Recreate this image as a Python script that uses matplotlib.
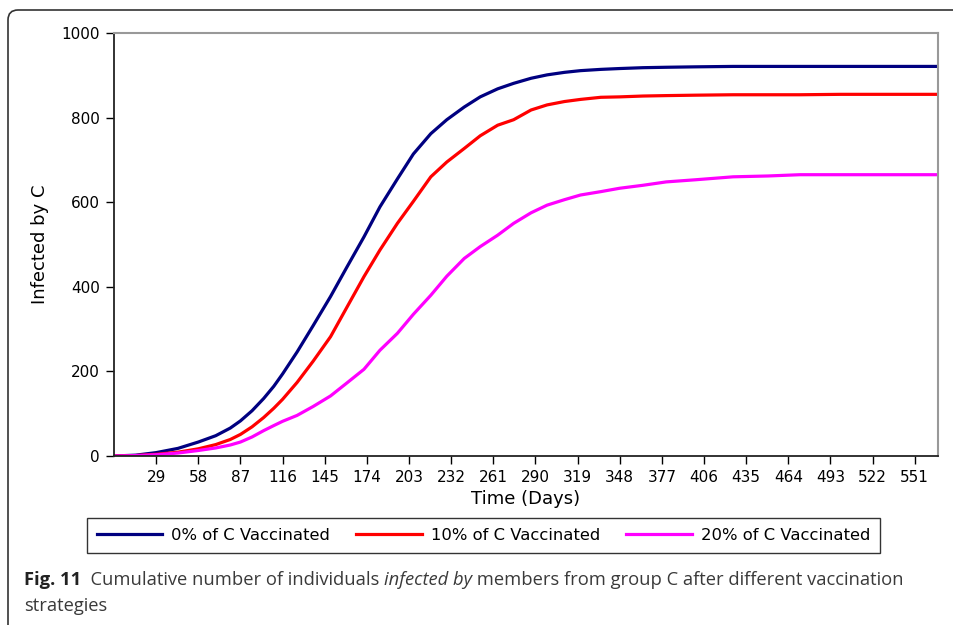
import matplotlib
matplotlib.use("Agg")
import matplotlib.pyplot as plt
from matplotlib.patches import FancyBboxPatch
from matplotlib.transforms import IdentityTransform

# data
days = [0, 15, 29, 44, 58, 70, 80, 87, 95, 103, 110, 116, 126, 137, 149, 160,
        172, 183, 195, 206, 218, 229, 241, 252, 264, 275, 287, 298, 310, 321,
        335, 348, 364, 380, 400, 426, 450, 472, 500, 567]

vacc_0 = [0, 2, 8, 18, 33, 48, 66, 83, 107, 136, 165, 194, 246, 308, 377, 445,
          518, 589, 655, 714, 762, 795, 825, 849, 868, 881, 893, 901, 907, 911,
          914, 916, 918, 919, 920, 921, 921, 921, 921, 921]

vacc_10 = [0, 1, 4, 9, 17, 27, 39, 51, 69, 91, 113, 134, 174, 224, 282, 350,
           424, 487, 550, 602, 660, 695, 727, 757, 782, 795, 818, 830, 838, 843,
           848, 849, 851, 852, 853, 854, 854, 854, 855, 855]

vacc_20 = [0, 1, 3, 7, 13, 19, 26, 33, 45, 60, 72, 82, 96, 117, 142, 172,
           205, 250, 290, 335, 380, 425, 467, 495, 522, 550, 575, 593, 606, 617,
           625, 633, 640, 648, 653, 660, 662, 665, 665, 665]

series_labels = ["0% of C Vaccinated", "10% of C Vaccinated", "20% of C Vaccinated"]
series_colors = ["#000080", "#ff0000", "#ff00ff"]

x_ticks = list(range(29, 552, 29))
y_ticks = [0, 200, 400, 600, 800, 1000]

fig = plt.figure(figsize=(9.54, 6.25), dpi=100)
ax = fig.add_axes([114 / 954, 1 - 456 / 625, (938 - 114) / 954, (456 - 33) / 625])

for vals, lab, col in zip([vacc_0, vacc_10, vacc_20], series_labels, series_colors):
    ax.plot(days, vals, color=col, linewidth=2.3, label=lab)

ax.set_xlim(0, 567)
ax.set_ylim(0, 1000)
ax.set_xticks(x_ticks)
ax.set_yticks(y_ticks)
ax.tick_params(axis="both", direction="out", length=6, width=1, labelsize=11,
               colors="black", pad=4)

for side in ["left", "bottom"]:
    ax.spines[side].set_color("#222222")
    ax.spines[side].set_linewidth(1.3)
for side in ["top", "right"]:
    ax.spines[side].set_color("#999999")
    ax.spines[side].set_linewidth(1.5)

ax.set_xlabel("Time (Days)", fontsize=13, labelpad=4)
ax.set_ylabel("Infected by C", fontsize=13, labelpad=9)

leg = fig.legend(loc="center", bbox_to_anchor=(483.5 / 954, 1 - 535.5 / 625), ncol=3,
                 fontsize=11.8, frameon=True, fancybox=False, edgecolor="black",
                 handlelength=4.0, handletextpad=0.55, columnspacing=1.6,
                 borderpad=0.6, borderaxespad=0)
leg.get_frame().set_linewidth(1.0)

# outer border of the figure panel
border = FancyBboxPatch((8, -30), 1000, 625 - 10 + 30,
                        boxstyle="round,pad=0,rounding_size=10",
                        facecolor="none", edgecolor="#333333", linewidth=1.2,
                        transform=IdentityTransform())
fig.add_artist(border)

# caption, drawn in pieces
cap_color = "#3a3a3a"
fig.canvas.draw()
renderer = fig.canvas.get_renderer()
x0 = 24 / 954
y1 = 1 - 580 / 625
y2 = 1 - 606 / 625
pieces = [("Fig. 11", "bold", "normal"),
          ("  Cumulative number of individuals ", "normal", "normal"),
          ("infected by", "normal", "italic"),
          (" members from group C after different vaccination", "normal", "normal")]
x = x0
for txt, weight, style in pieces:
    t = fig.text(x, y1, txt, fontsize=13.2, family="Open Sans", fontweight=weight,
                 fontstyle=style, color=cap_color if weight == "normal" else "#222222",
                 va="center", ha="left")
    bb = t.get_window_extent(renderer)
    x += bb.width / fig.bbox.width
fig.text(x0, y2, "strategies", fontsize=13.2, family="Open Sans", color=cap_color,
         va="center", ha="left")

fig.savefig("out.png", dpi=100)
